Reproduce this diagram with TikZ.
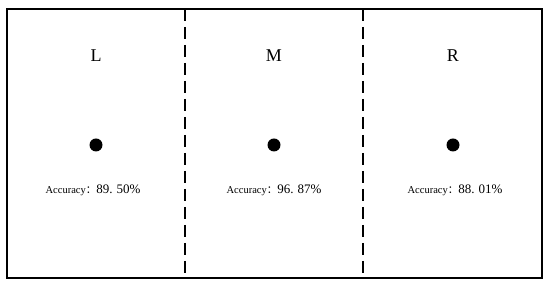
\documentclass[tikz,border=0pt]{standalone}
\usepackage{fontspec}
\setmainfont{Liberation Serif}
\newfontfamily\cjk{Noto Sans CJK SC}
\usetikzlibrary{positioning}

\begin{document}
\begin{tikzpicture}[x=1pt,y=1pt,line cap=butt,
  panel/.style={font=\fontsize{18}{18}\selectfont,inner sep=0pt},
  spot/.style={circle,fill=black,minimum size=13pt,inner sep=0pt},
  acc/.style={inner sep=0pt,anchor=base},
  divider/.style={line width=1.2pt,dash pattern=on 12pt off 6pt}]
  \useasboundingbox (0,0) rectangle (550,288);
  % Frame and the two dashed dividers.
  \draw[line width=2.4pt] (7,10) rectangle (542,279);
  \coordinate (d1top) at (185,279);
  \coordinate (d1bot) at (185,10);
  \coordinate (d2top) at (363,279);
  \coordinate (d2bot) at (363,10);
  \draw[divider] (d1top)--(d1bot);
  \draw[divider] (d2top)--(d2bot);

  % Left, middle and right regions.
  \node[panel] (labL) at (96,232) {L};
  \node[panel] (labM) at (274,232) {M};
  \node[panel] (labR) at (453,232) {R};
  \node[spot] (dotL) at (96,143) {};
  \node[spot] (dotM) at (274,143) {};
  \node[spot] (dotR) at (453,143) {};
  \node[acc] (accL) at (93,94)
    {\fontsize{10.5}{10}\selectfont Accuracy{\cjk ：}\fontsize{13}{13}\selectfont 89.\hspace{4pt}50\%};
  \node[acc] (accM) at (274,94)
    {\fontsize{10.5}{10}\selectfont Accuracy{\cjk ：}\fontsize{13}{13}\selectfont 96.\hspace{4pt}87\%};
  \node[acc] (accR) at (455,94)
    {\fontsize{10.5}{10}\selectfont Accuracy{\cjk ：}\fontsize{13}{13}\selectfont 88.\hspace{4pt}01\%};
\end{tikzpicture}
\end{document}
